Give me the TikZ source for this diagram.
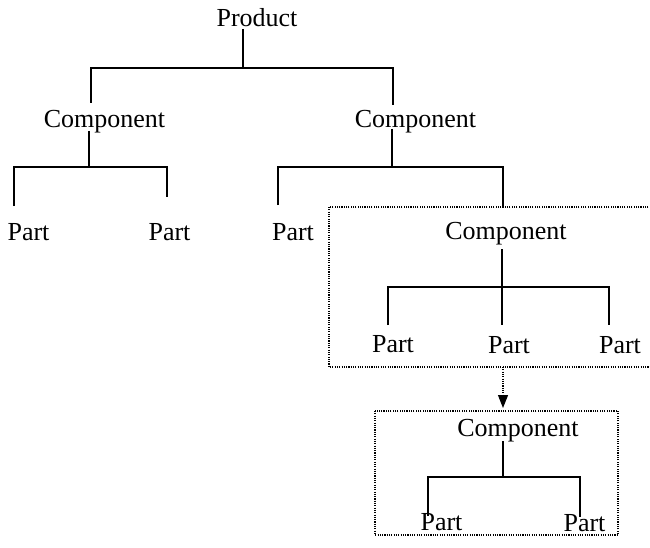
\documentclass[tikz,border=0pt]{standalone}
\usepackage{fontspec}
\setmainfont{Liberation Serif}
\usetikzlibrary{arrows.meta}
\begin{document}
\begin{tikzpicture}[x=1pt, y=-1pt, >={Triangle[length=13pt,width=10pt]},
  lbl/.style={anchor=base, inner sep=0pt, font=\fontsize{26}{30}\selectfont},
  tree/.style={line width=1.5pt},
  dotbox/.style={line width=1.1pt, dash pattern=on 1.1pt off 1.2pt}]
  \useasboundingbox (0,0) rectangle (650,548);
  \clip (0,0) rectangle (650,548);

  % Labels
  \node[lbl] (prod) at (257,27) {Product};
  \node[lbl] (compL) at (104.5,128) {Component};
  \node[lbl] (compR) at (415.5,128) {Component};
  \node[lbl] (partA) at (28.5,240) {Part};
  \node[lbl] (partB) at (169.5,240) {Part};
  \node[lbl] (partC) at (293,240) {Part};
  \node[lbl] (compS) at (506,239) {Component};
  \node[lbl] (partD) at (393,352) {Part};
  \node[lbl] (partE) at (509,353) {Part};
  \node[lbl] (partF) at (620,353) {Part};
  \node[lbl] (compT) at (518,436) {Component};
  \node[lbl] (partG) at (441.5,530) {Part};
  \node[lbl] (partH) at (584.5,531) {Part};

  % Product level
  \coordinate (P0) at (243,29);
  \coordinate (P1) at (243,68);
  \coordinate (PL) at (91,68);
  \coordinate (PR) at (393,68);
  \draw[tree] (P0) -- (P1);
  \draw[tree] (91,103) -- (PL) -- (PR) -- (393,105);

  % Left component
  \coordinate (L0) at (89,131);
  \coordinate (L1) at (89,167);
  \coordinate (LA) at (14,167);
  \coordinate (LB) at (167,167);
  \draw[tree] (L0) -- (L1);
  \draw[tree] (14,206) -- (LA) -- (LB) -- (167,197);

  % Right component
  \coordinate (R0) at (392,129);
  \coordinate (R1) at (392,167);
  \coordinate (RA) at (278,167);
  \coordinate (RB) at (503,167);
  \draw[tree] (R0) -- (R1);
  \draw[tree] (278,205) -- (RA) -- (RB) -- (503,207);

  % Sub-assembly box
  \draw[dotbox] (329,207) rectangle (653,367);
  \coordinate (S0) at (502,249);
  \coordinate (S1) at (502,287);
  \draw[tree] (S0) -- (S1) -- (502,325);
  \draw[tree] (388,325) -- (388,287) -- (609,287) -- (609,325);

  % Arrow to detail box
  \coordinate (A0) at (503,367);
  \coordinate (A1) at (503,408);
  \draw[dotbox, ->] (A0) -- (A1);

  % Detail box
  \draw[dotbox] (375,411) rectangle (618,535);
  \coordinate (T0) at (503,441);
  \coordinate (T1) at (503,477);
  \draw[tree] (T0) -- (T1);
  \draw[tree] (428,516) -- (428,477) -- (580,477) -- (580,517);
\end{tikzpicture}
\end{document}
